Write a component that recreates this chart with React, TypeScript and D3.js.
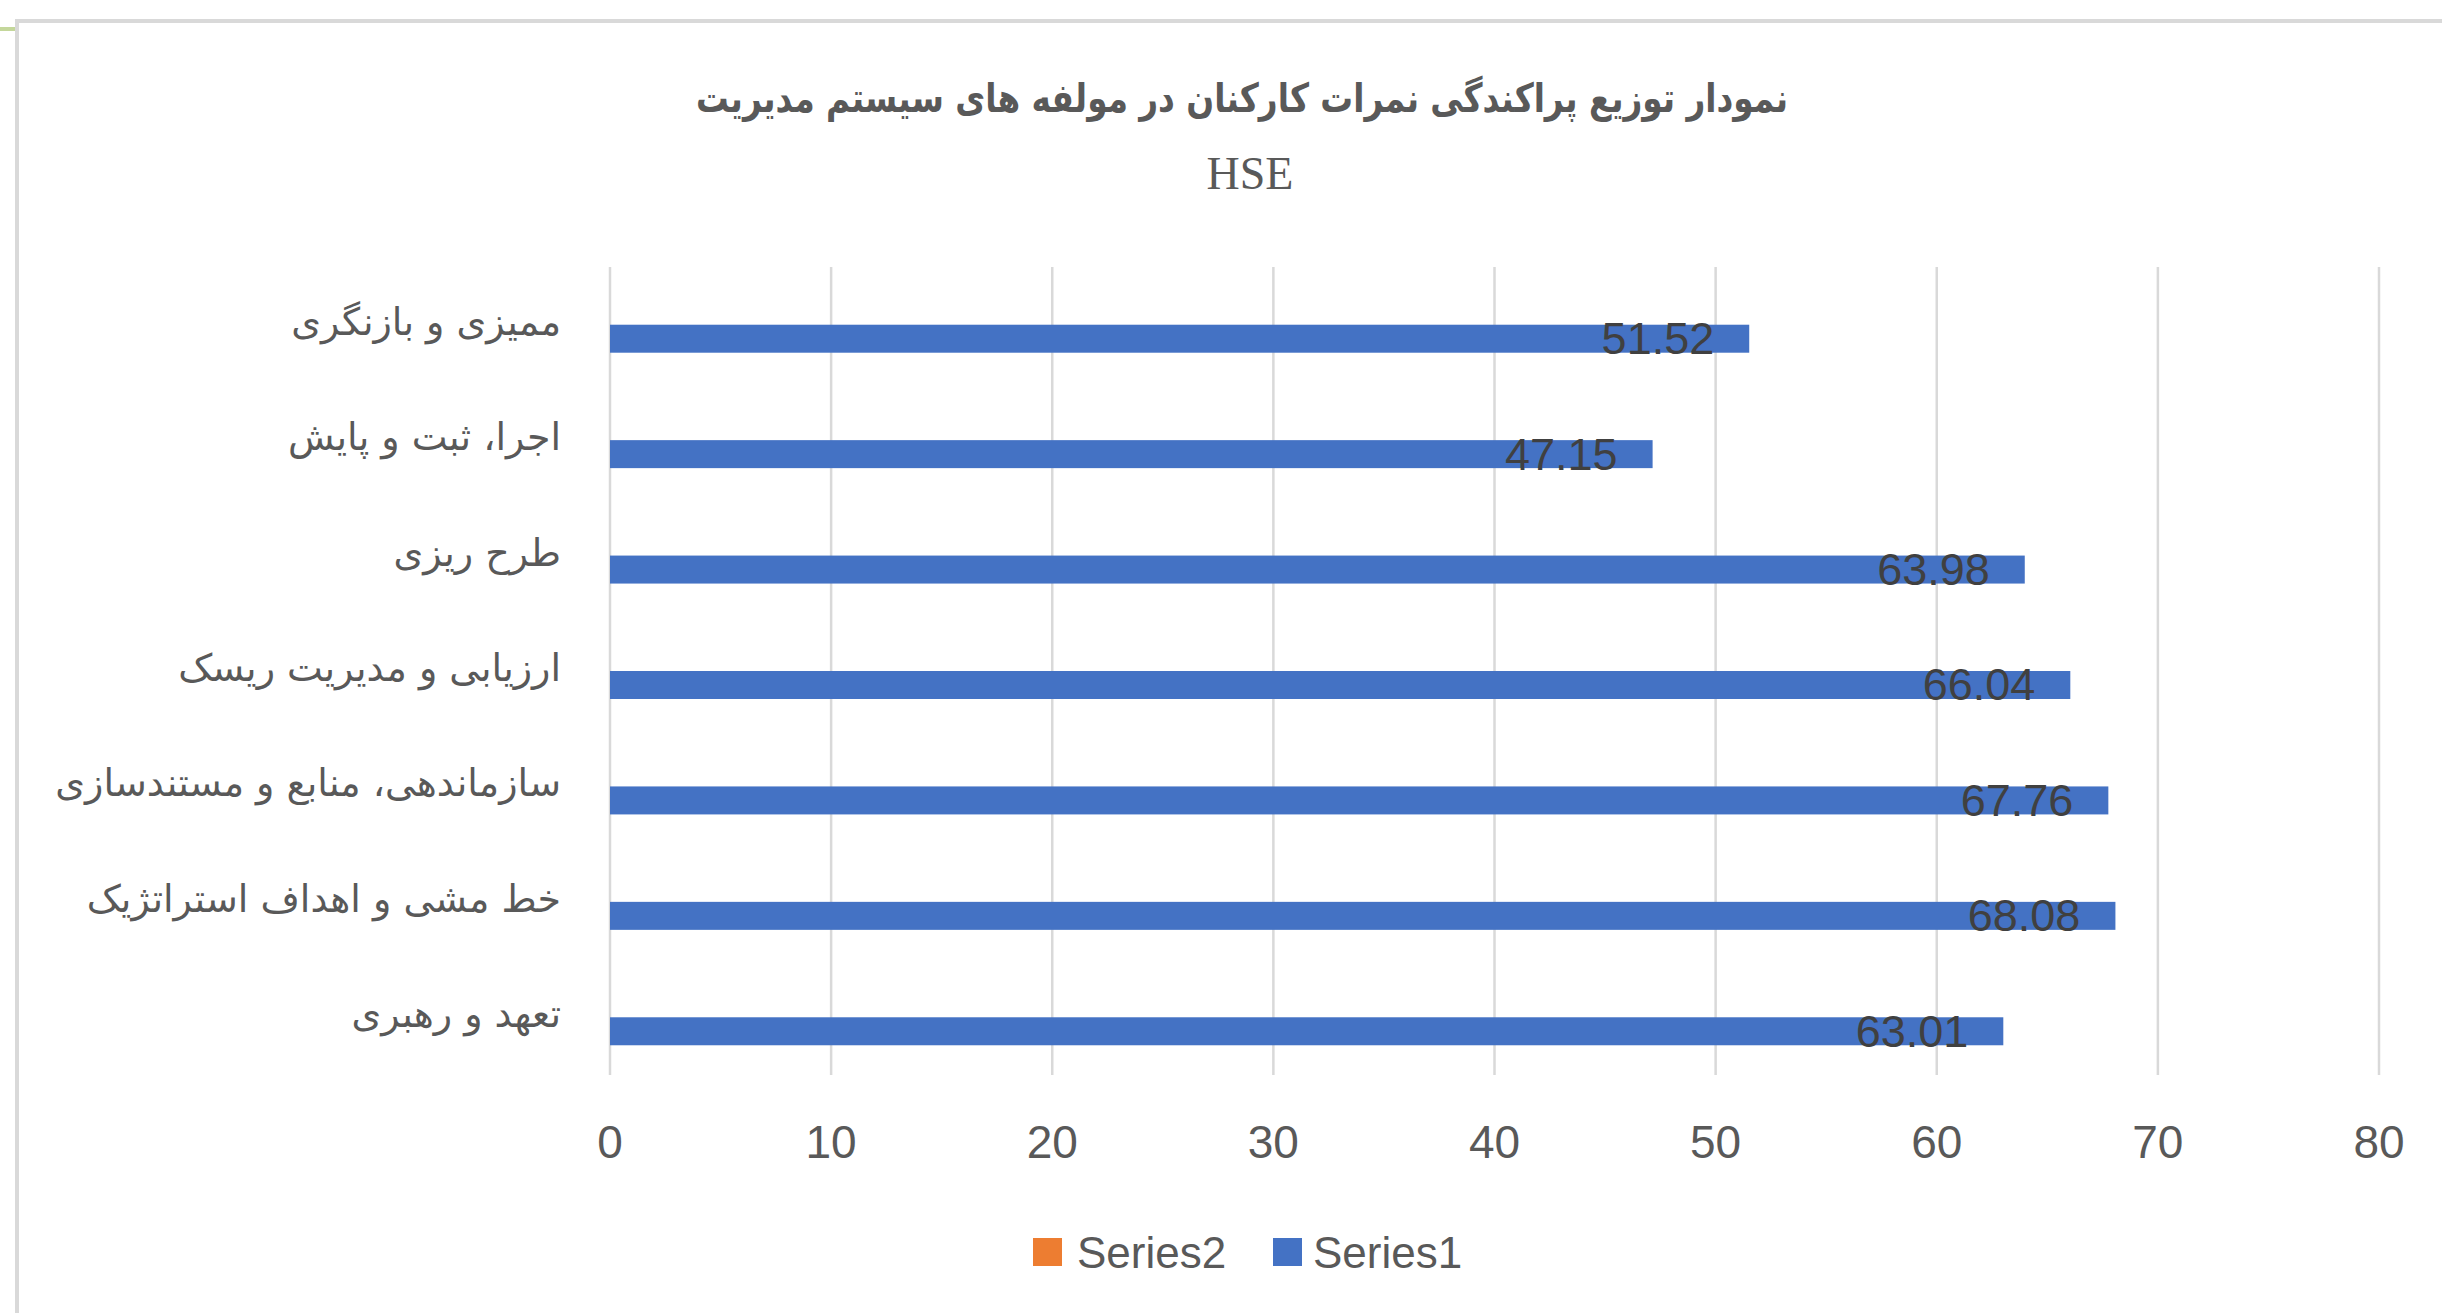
import React from 'react';
import * as d3 from 'd3';

// داده‌های نمودار
const categories = [
  'ممیزی و بازنگری',
  'اجرا، ثبت و پایش',
  'طرح ریزی',
  'ارزیابی و مدیریت ریسک',
  'سازماندهی، منابع و مستندسازی',
  'خط مشی و اهداف استراتژیک',
  'تعهد و رهبری',
];
const series1 = [51.52, 47.15, 63.98, 66.04, 67.76, 68.08, 63.01];
const series2: (number | null)[] = [null, null, null, null, null, null, null];
const seriesNames = ['Series2', 'Series1'];
const seriesColors = ['#ed7d31', '#4472c4'];
const xTicks = [0, 10, 20, 30, 40, 50, 60, 70, 80];
const titleLine1 = 'نمودار توزیع پراکندگی نمرات کارکنان در مولفه های سیستم مدیریت';
const titleLine2 = 'HSE';

const W = 2442;
const H = 1313;
const plot = { left: 610, right: 2379, top: 267, bottom: 1075 };

const App = () => {
  const x = d3.scaleLinear().domain([0, 80]).range([plot.left, plot.right]);

  // هر دسته یک خوشه دارد: Series2 (خالی) بالا و Series1 پایین
  const y = d3.scaleBand<string>()
    .domain(categories)
    .range([plot.top, plot.bottom])
    .paddingInner(0.515)
    .paddingOuter(0.2575);

  const yInner = d3.scaleBand<string>()
    .domain(seriesNames)
    .range([0, y.bandwidth()]);

  const gray = '#595959';

  return (
    <svg width={W} height={H} style={{ position: 'absolute', left: 0, top: 0, background: '#fff' }}>
      {/* قاب */}
      <line x1={17} x2={W} y1={21} y2={21} stroke="#d9d9d9" strokeWidth={4} />
      <line x1={17} x2={17} y1={19} y2={H} stroke="#d9d9d9" strokeWidth={4} />
      <line x1={0} x2={15} y1={29} y2={29} stroke="#c4d79b" strokeWidth={4} />

      {/* عنوان */}
      <text x={1242} y={112} textAnchor="middle" fill={gray}
        textLength={1092} lengthAdjust="spacingAndGlyphs"
        style={{ fontFamily: 'DejaVu Sans', fontWeight: 'bold', fontSize: 40 }}>
        {titleLine1}
      </text>
      <text x={1250} y={189} textAnchor="middle" fill={gray}
        style={{ fontFamily: 'Liberation Serif', fontSize: 46 }}>
        {titleLine2}
      </text>

      {/* خطوط شبکه */}
      {xTicks.map(t => (
        <line key={'g' + t} x1={x(t)} x2={x(t)} y1={plot.top} y2={plot.bottom}
          stroke="#d9d9d9" strokeWidth={2.5} />
      ))}

      {/* میله‌ها */}
      {categories.map((c, i) => (
        <g key={c} transform={`translate(0,${y(c)})`}>
          {series2[i] != null && (
            <rect x={x(0)} y={yInner('Series2')} width={x(series2[i] as number) - x(0)}
              height={yInner.bandwidth()} fill={seriesColors[0]} />
          )}
          <rect x={x(0)} y={yInner('Series1')} width={x(series1[i]) - x(0)}
            height={yInner.bandwidth()} fill={seriesColors[1]} />
          <text x={x(series1[i]) - 35} y={(yInner('Series1') as number) + yInner.bandwidth() / 2}
            textAnchor="end" dominantBaseline="central" fill="#404040"
            style={{ fontFamily: 'Liberation Sans', fontSize: 45 }}>
            {series1[i].toFixed(2)}
          </text>
        </g>
      ))}

      {/* برچسب دسته‌ها */}
      {categories.map(c => (
        <text key={'l' + c} x={561} y={(y(c) as number) + y.bandwidth() / 2 + 10}
          textAnchor="end" fill={gray}
          style={{ fontFamily: 'DejaVu Sans', fontSize: 38 }}>
          {c}
        </text>
      ))}

      {/* محور افقی */}
      {xTicks.map(t => (
        <text key={'t' + t} x={x(t)} y={1158} textAnchor="middle" fill={gray}
          style={{ fontFamily: 'Liberation Sans', fontSize: 46 }}>
          {t}
        </text>
      ))}

      {/* راهنما */}
      <rect x={1033} y={1238} width={29} height={28} fill={seriesColors[0]} />
      <text x={1077} y={1268} fill={gray} style={{ fontFamily: 'Liberation Sans', fontSize: 44 }}>
        {seriesNames[0]}
      </text>
      <rect x={1273} y={1238} width={29} height={28} fill={seriesColors[1]} />
      <text x={1313} y={1268} fill={gray} style={{ fontFamily: 'Liberation Sans', fontSize: 44 }}>
        {seriesNames[1]}
      </text>
    </svg>
  );
};

export default App;
